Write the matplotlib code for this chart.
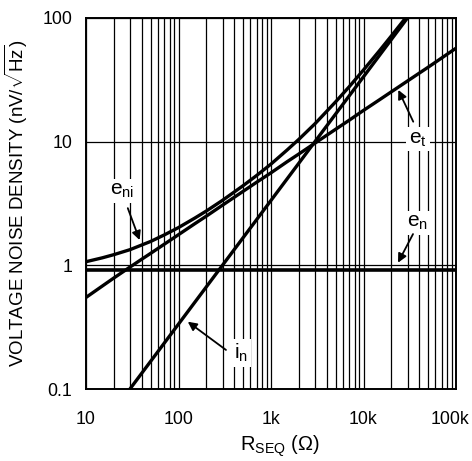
import matplotlib
matplotlib.use("Agg")
import matplotlib.pyplot as plt
import matplotlib.ticker as mt
import matplotlib.transforms as mtrans

plt.rcParams['font.family'] = ['Liberation Sans', 'DejaVu Sans']
plt.rcParams['mathtext.fontset'] = 'custom'
plt.rcParams['mathtext.rm'] = 'Liberation Sans'
plt.rcParams['mathtext.it'] = 'Liberation Sans:italic'
plt.rcParams['mathtext.bf'] = 'Liberation Sans:bold'

# Data (R in ohms, noise in nV/sqrt(Hz))
r_pts = [10, 15, 20, 30, 40, 50, 70, 100, 150, 200, 300, 500, 700, 1000, 1500,
         2000, 3000, 5000, 7000, 10000, 15000, 20000, 30000, 50000, 70000, 100000]
e_t = [0.55, 0.68, 0.79, 0.97, 1.12, 1.25, 1.48, 1.77, 2.17, 2.5, 3.07, 3.97, 4.7,
       5.6, 6.9, 7.95, 9.75, 12.6, 14.9, 17.9, 21.9, 25.3, 31, 40, 47.5, 57]
r_ni = [10, 15, 20, 30, 40, 50, 70, 100, 150, 200, 300, 500, 700, 1000, 1500,
        2000, 3000, 5000, 7000, 10000, 15000, 20000, 30000]
e_ni = [1.07, 1.15, 1.22, 1.34, 1.46, 1.56, 1.76, 2.02, 2.41, 2.75, 3.36, 4.41, 5.33,
        6.59, 8.59, 10.44, 14.0, 21.0, 27.8, 38.0, 54.8, 71.6, 105]
r_in = [20, 100, 1000, 10000, 40000]
i_n_r = [0.067, 0.335, 3.35, 33.5, 134]
r_en = [10, 100000]
e_n = [0.92, 0.92]

x_ticks = [10, 100, 1000, 10000, 100000]
x_labels = ['10', '100', '1k', '10k', '100k']
y_ticks = [0.1, 1, 10, 100]
y_labels = ['0.1', '1', '10', '100']

fig = plt.figure(figsize=(4.72, 4.61), dpi=100)
ax = fig.add_axes([86/472, 1-389/461, 370/472, 371/461])
ax.set_xscale('log')
ax.set_yscale('log')
ax.set_xlim(10, 100000)
ax.set_ylim(0.1, 100)

ax.xaxis.set_minor_locator(mt.LogLocator(base=10, subs=range(2, 10), numticks=20))
ax.xaxis.set_minor_formatter(mt.NullFormatter())
ax.yaxis.set_minor_locator(mt.NullLocator())

# grid: vertical major+minor, horizontal major only
ax.xaxis.grid(True, which='both', color='black', lw=0.9)
ax.yaxis.grid(True, which='major', color='black', lw=0.9)
ax.set_axisbelow(True)

lw = 2.4
ax.plot(r_pts, e_t, color='black', lw=lw, solid_capstyle='butt')
ax.plot(r_ni, e_ni, color='black', lw=lw, solid_capstyle='butt')
ax.plot(r_in, i_n_r, color='black', lw=lw, solid_capstyle='butt')
ax.plot(r_en, e_n, color='black', lw=2.6, solid_capstyle='butt')

ax.set_xticks(x_ticks)
ax.set_xticklabels(x_labels)
ax.set_yticks(y_ticks)
ax.set_yticklabels(y_labels)
ax.tick_params(which='both', length=0)
ax.tick_params(axis='x', labelsize=12.8, pad=16)
ax.tick_params(axis='y', labelsize=12.8, pad=10)

# shift the last x label left so it stays inside the figure
last = ax.get_xticklabels()[-1]
last.set_transform(last.get_transform() + mtrans.ScaledTranslation(-6/100, 0, fig.dpi_scale_trans))

for s in ax.spines.values():
    s.set_linewidth(1.4)

ax.set_ylabel(r'VOLTAGE NOISE DENSITY (nV/$\sqrt{\mathrm{Hz}}$)', fontsize=13.5)
ax.yaxis.set_label_coords(-0.152, 0.5)
ax.set_xlabel(r'$\mathrm{R_{SEQ}}$ ($\Omega$)', fontsize=14.5)
ax.xaxis.set_label_coords(0.525, -0.121)

bbox = dict(fc='white', ec='none', pad=2)
arrow = dict(arrowstyle='-|>', color='black', lw=1.3, mutation_scale=13,
             shrinkA=0, shrinkB=0)

# labels and arrows (text pos, arrow tail, arrow tip)
ax.text(24.5, 4.0, r'$\mathrm{e_{ni}}$', fontsize=15, ha='center', va='center', bbox=bbox)
ax.annotate('', xy=(38, 1.6), xytext=(28.3, 2.9), arrowprops=arrow)

ax.text(38800, 10.5, r'$\mathrm{e_{t}}$', fontsize=15, ha='center', va='center', bbox=bbox)
ax.annotate('', xy=(23800, 26.2), xytext=(34500, 14.5), arrowprops=arrow)

ax.text(38800, 2.2, r'$\mathrm{e_{n}}$', fontsize=15, ha='center', va='center', bbox=bbox)
ax.annotate('', xy=(23600, 1.05), xytext=(34300, 1.79), arrowprops=arrow)

ax.text(474, 0.196, r'$\mathrm{i_{n}}$', fontsize=15, ha='center', va='center', bbox=bbox)
ax.annotate('', xy=(126, 0.35), xytext=(326, 0.207), arrowprops=arrow)

fig.savefig('out.png', dpi=100)
